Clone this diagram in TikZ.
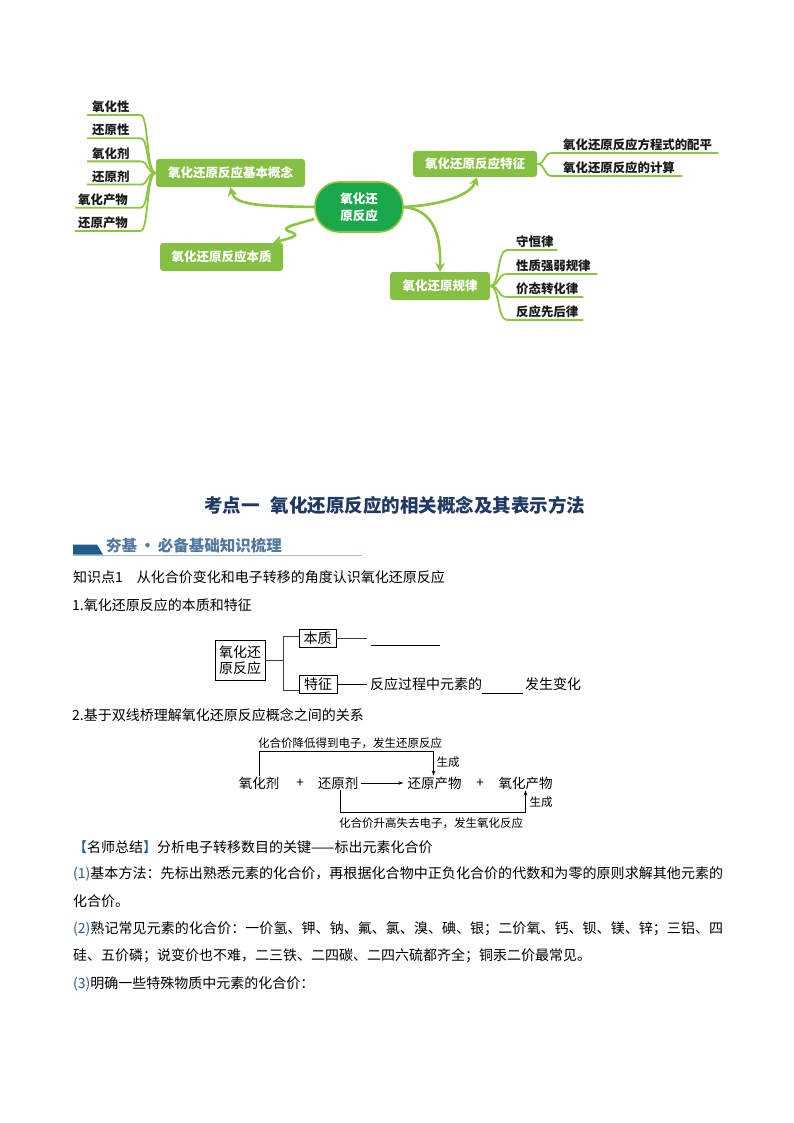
\documentclass[tikz,border=0pt]{standalone}
\usepackage{fontspec}
\setmainfont{Noto Sans CJK SC}
\usetikzlibrary{arrows.meta}
\XeTeXlinebreaklocale "zh"
\XeTeXlinebreakskip=0pt plus 3pt minus 0.6pt
\definecolor{mmline}{HTML}{8CC63F}
\definecolor{boxgreen}{HTML}{86C043}
\definecolor{mmhub}{HTML}{1BA84B}
\definecolor{navy}{HTML}{1F3864}
\definecolor{hdrblue}{HTML}{1F5C8E}
\definecolor{hdrtext}{HTML}{52799F}
\definecolor{hdrline}{HTML}{A8BBCF}
\definecolor{numblue}{HTML}{2E5597}
\newcommand{\fsz}[1]{\fontsize{#1}{#1}\selectfont}
\begin{document}
\begin{tikzpicture}[x=1pt,y=-1pt,
  mmbox/.style={fill=boxgreen, rounded corners=3pt, text=white, font=\bfseries\fsz{12.5}, minimum height=28pt, inner sep=2pt},
  hub/.style={fill=mmhub, draw=mmline, line width=1.6pt, rounded corners=24pt, minimum width=88pt, minimum height=50pt, text=white, align=center, font=\bfseries\fontsize{12.5}{17}\selectfont},
  mmarrow/.style={draw=mmline, line width=2.6pt, -{Stealth[length=9pt,width=10pt,inset=3pt]}},
  leaf/.style={anchor=south west, inner xsep=0pt, inner ysep=2pt, align=left, text width=#1, font=\bfseries\fsz{12.4}, text=black!90},
  leafline/.style={draw=mmline, line width=1.8pt},
  txt/.style={anchor=base west, inner sep=0pt, font=\fsz{14}},
  bx/.style={draw, line width=0.8pt, inner sep=2pt, font=\fsz{14}},
  tree/.style={draw=black!75, line width=1pt},
  blank/.style={draw, line width=0.6pt},
  dtwo/.style={inner sep=1pt, font=\fsz{13.5}},
  dsmall/.style={inner sep=0pt, font=\fsz{11.5}},
  thinarrow/.style={draw, line width=0.6pt, -{Stealth[length=5pt,width=3.5pt]}}
]
\useasboundingbox[fill=white] (0,0) rectangle (794,1123);

% ---------------- mind map ----------------
\node[mmbox, minimum width=149pt] (bgn) at (230.5,173) {氧化还原反应基本概念};
\node[mmbox, minimum width=123pt] (bz) at (221.5,257) {氧化还原反应本质};
\node[mmbox, minimum width=124pt, minimum height=26pt] (tz) at (475,164) {氧化还原反应特征};
\node[mmbox, minimum width=100pt] (gl) at (440,286) {氧化还原规律};
\node[hub] (hub) at (359,207) {氧化还\\原反应};

\node[leaf=48pt] (k1) at (92,115) {氧化性};
\node[leaf=48pt] (k2) at (92,138.2) {还原性};
\node[leaf=48pt] (k3) at (92,161.4) {氧化剂};
\node[leaf=48pt] (k4) at (92,184.6) {还原剂};
\node[leaf=62pt] (k5) at (78,207.8) {氧化产物};
\node[leaf=62pt] (k6) at (78,231) {还原产物};
\foreach \n/\y/\s in {k1/115/-5pt,k2/138.2/-5pt,k3/161.4/-5pt,k4/184.6/-5pt,k5/207.8/-3pt,k6/231/-3pt}
  \draw[leafline] ([xshift=\s]\n.south west) -- (\n.south east) .. controls (149,\y) and (146,173) .. (bgn.west);

\node[leaf=155pt] (t1) at (563,153) {氧化还原反应方程式的配平};
\node[leaf=119pt] (t2) at (563,176) {氧化还原反应的计算};
\foreach \n/\y in {t1/153,t2/176}
  \draw[leafline] (tz.east) .. controls (546,164) and (543,\y) .. ([xshift=-11pt]\n.south west) -- (\n.south east);

\node[leaf=41pt] (r1) at (516,250) {守恒律};
\node[leaf=81pt] (r2) at (516,274) {性质强弱规律};
\node[leaf=67pt] (r3) at (516,297) {价态转化律};
\node[leaf=67pt] (r4) at (516,320) {反应先后律};
\foreach \n/\y in {r1/250,r2/274,r3/297,r4/320}
  \draw[leafline] (gl.east) .. controls (500,286) and (497,\y) .. ([xshift=-9pt]\n.south west) -- (\n.south east);

\draw[mmarrow] (hub.west) .. controls (265,206) and (235,206) .. (bgn.south);
\draw[mmarrow] (hub.195) .. controls (298,224) and (276,228) .. (291,232) .. controls (303,236) and (286,239) .. ([xshift=-10pt]bz.north east);
\draw[mmarrow] (hub.east) .. controls (440,205) and (470,196) .. ([xshift=2pt]tz.south);
\draw[mmarrow] (hub.east) .. controls (432,210) and (441,232) .. (gl.north);

% ---------------- title and header ----------------
\node[anchor=base west, inner sep=0pt, text=navy, font=\bfseries\fsz{18.5}] (title) at (204,512) {考点一\hspace{0.6em}氧化还原反应的相关概念及其表示方法};
\fill[hdrblue] (73,544.5) -- (97,544.5) -- (103,554.5) -- (73,554.5) -- cycle;
\node[anchor=base west, inner sep=0pt, text=hdrtext, font=\bfseries\fsz{15.5}] (hdr) at (106,551) {夯基\,·\,必备基础知识梳理};
\draw[hdrline, line width=0.8pt] (73,555.5) -- (362,555.5);

\node[txt] (kp) at (73,582.3) {知识点1\hspace{1em}从化合价变化和电子转移的角度认识氧化还原反应};
\node[txt] (s1) at (72,610.3) {1.氧化还原反应的本质和特征};

% ---------------- diagram 1 ----------------
\node[bx, minimum width=50pt, minimum height=40pt, align=center, font=\fontsize{14}{16.5}\selectfont] (rr) at (240,660) {氧化还\\原反应};
\node[bx, minimum width=37pt, minimum height=18pt] (bz1) at (317.5,638) {本质};
\node[bx, minimum width=38pt, minimum height=18pt] (tz1) at (318,684) {特征};
\coordinate (jt) at (283,636);
\coordinate (jb) at (283,690);
\draw[tree] (rr.east) -- (rr.east -| jt);
\draw[tree] (bz1.west |- jt) -- (jt) -- (jb) -- (tz1.west |- jb);
\coordinate (bzend) at (367,638);
\coordinate (tzend) at (367,684);
\draw[tree] (bz1.east) -- (bzend);
\draw[blank] (371,645) -- (440,645);
\draw[tree, line width=0.7pt, draw=black] (tz1.east) -- (tzend);
\node[txt] (f1) at (370,689.3) {反应过程中元素的};
\draw[blank] (482,693) -- (523,693);
\node[txt] (f2) at (525,689.3) {发生变化};

\node[txt] (s2) at (72,720.3) {2.基于双线桥理解氧化还原反应概念之间的关系};

% ---------------- diagram 2 ----------------
\node[dtwo] (ox) at (259,783) {氧化剂};
\node[dtwo] (p1) at (300,783) {+};
\node[dtwo] (rd) at (338,783) {还原剂};
\node[dtwo] (rp) at (434.5,783) {还原产物};
\node[dtwo] (p2) at (480,783) {+};
\node[dtwo] (op) at (525.5,783) {氧化产物};
\draw[thinarrow] ([xshift=2pt]rd.east) -- ([xshift=-3pt]rp.west);
\coordinate (tb) at (0,751);
\coordinate (bb) at (0,812);
\draw[thinarrow] (ox.north) -- (ox.north |- tb) -- ([xshift=-1pt]rp.north |- tb) -- ([xshift=-1pt]rp.north);
\draw[thinarrow] ([xshift=2pt]rd.south) -- ([xshift=2pt]rd.south |- bb) -- (op.south |- bb) -- (op.south);
\node[dsmall] (ta) at (350,743) {化合价降低得到电子，发生还原反应};
\node[dsmall] (sc1) at (448,762) {生成};
\node[dsmall] (sc2) at (541,802) {生成};
\node[dsmall] (ba) at (431,823) {化合价升高失去电子，发生氧化反应};

% ---------------- summary ----------------
\node[txt] (ms) at (73,852.3) {\textcolor{numblue}{【}名师总结\textcolor{numblue}{】}分析电子转移数目的关键——标出元素化合价};
\node[anchor=base west, inner sep=0pt] (q1) at (73,878.3) {\parbox[b]{650pt}{\fsz{14}\tolerance=10000\parfillskip=0pt \textcolor{numblue}{(1)}基本方法：先标出熟悉元素的化合价，再根据化合物中正负化合价的代数和为零的原则求解其他元素的}};
\node[txt] (q1b) at (73,906.3) {化合价。};
\node[anchor=base west, inner sep=0pt] (q2) at (73,933.3) {\parbox[b]{650pt}{\fsz{14}\tolerance=10000\parfillskip=0pt \textcolor{numblue}{(2)}熟记常见元素的化合价：一价氢、钾、钠、氟、氯、溴、碘、银；二价氧、钙、钡、镁、锌；三铝、四}};
\node[txt] (q2b) at (73,960.3) {硅、五价磷；说变价也不难，二三铁、二四碳、二四六硫都齐全；铜汞二价最常见。};
\node[txt] (q3) at (73,988.3) {\textcolor{numblue}{(3)}明确一些特殊物质中元素的化合价：};
\end{tikzpicture}
\end{document}
